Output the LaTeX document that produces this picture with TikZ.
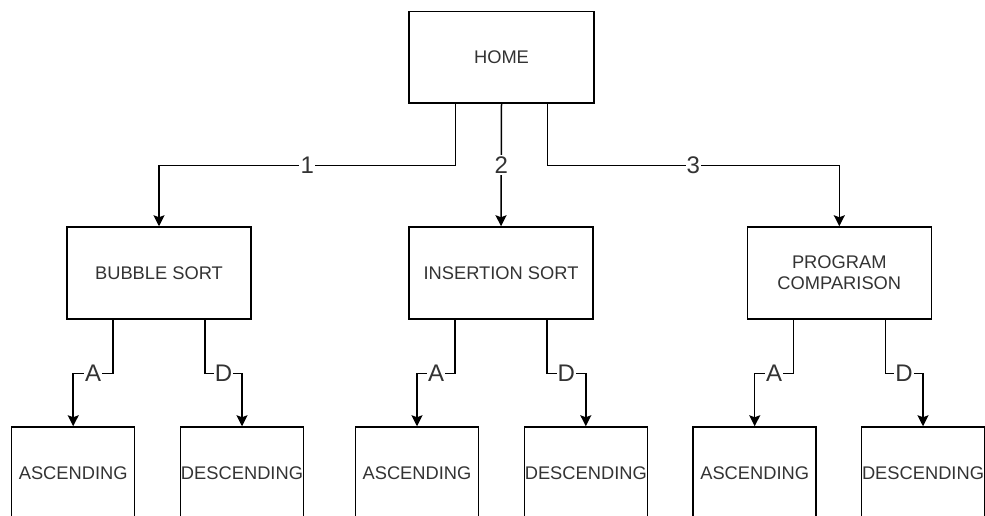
\documentclass[tikz,border=0pt]{standalone}
\usepackage{fontspec}
\setmainfont{Liberation Sans}
\usetikzlibrary{arrows.meta}
\definecolor{txt}{HTML}{333333}
\begin{document}
\begin{tikzpicture}[x=1pt,y=-1pt,
  box/.style={draw=black, line width=1.5pt, fill=white, minimum width=184pt,
    minimum height=92pt, inner sep=0pt, align=center, text=txt,
    font=\fontsize{18.3}{21}\selectfont},
  leaf/.style={box, minimum width=123pt},
  lbl/.style={fill=white, inner sep=1.2pt, text=txt, font=\fontsize{24}{26}\selectfont},
  link/.style={line width=1.5pt, -{Stealth[length=11pt,width=11pt,inset=2pt]}}]
\useasboundingbox (0,0) rectangle (985,515);
\clip (0,0) rectangle (985,515);

% top level
\node[box, minimum width=185pt, minimum height=91.5pt] (home) at (501.5,57.3) {HOME};

% menu options
\node[box] (bs) at (159,273) {BUBBLE SORT};
\node[box] (is) at (501,273) {INSERTION SORT};
\node[box] (pc) at (839.3,273) {PROGRAM\\COMPARISON};

% sort order pages
\node[leaf] (bsa) at (73.2,473) {ASCENDING};
\node[leaf] (bsd) at (242,473) {DESCENDING};
\node[leaf] (isa) at (417,473) {ASCENDING};
\node[leaf] (isd) at (585.8,473) {DESCENDING};
\node[leaf] (pca) at (754.7,473) {ASCENDING};
\node[leaf] (pcd) at (923,473) {DESCENDING};

% home -> options
\draw[link] ([xshift=-46pt]home.south) -- ++(0,61.5) -| node[lbl,pos=0.25] {1} (bs.north);
\draw[link] (home.south) -- node[lbl] {2} (is.north);
\draw[link] ([xshift=46pt]home.south) -- ++(0,61.5) -| node[lbl,pos=0.25] {3} (pc.north);

% options -> sort order
\foreach \p/\a/\d in {bs/bsa/bsd, is/isa/isd, pc/pca/pcd}{
  \draw[link] ([xshift=-46pt]\p.south) -- ++(0,53.5) -| node[lbl,pos=0.25] {A} (\a.north);
  \draw[link] ([xshift=46pt]\p.south) -- ++(0,53.5) -| node[lbl,pos=0.25] {D} (\d.north);
}
\end{tikzpicture}
\end{document}
